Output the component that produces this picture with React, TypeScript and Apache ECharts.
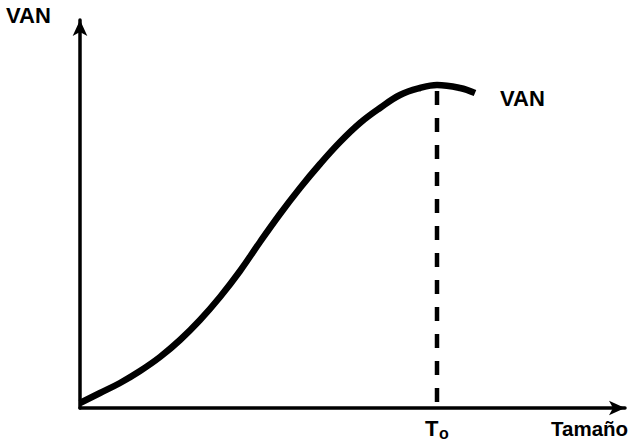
import React, { useEffect, useRef } from "react";
import * as echarts from "echarts";

// Curve (Tamaño, VAN) in chart units
const tamano = [0, 20, 40, 60, 80, 100, 120, 140, 160, 180, 200, 220, 240, 260, 280, 300, 320, 340, 357, 380, 395];
const van = [5, 15, 25, 37, 51, 68, 88, 111, 137, 166, 194, 220, 244, 266, 285, 300, 313, 320, 323, 320, 315];
// Optimal size T_o
const optimoX = 357;
const optimoY = 323;
const yLabel = "VAN";
const xLabel = "Tamaño";
const curveLabel = "VAN";

export default function App() {
  const ref = useRef<HTMLDivElement>(null);
  useEffect(() => {
    if (!ref.current) return;
    const chart = echarts.init(ref.current, undefined, { renderer: "svg" });
    const font = "'Liberation Sans', Arial, Helvetica, sans-serif";
    const curve = tamano.map((x, i) => [x, van[i]]);
    const txt = (text: string, x: number, y: number, size = 22) => ({
      type: "text",
      x,
      y,
      style: { text, fontFamily: font, fontWeight: "bold", fontSize: size, fill: "#000", verticalAlign: "middle" },
    });
    chart.setOption({
      animation: false,
      backgroundColor: "#ffffff",
      grid: { left: 80, right: 8, top: 20, bottom: 37 },
      xAxis: {
        type: "value",
        min: 0,
        max: 545,
        axisLine: {
          show: true,
          onZero: false,
          symbol: ["none", "arrow"],
          symbolSize: [11, 16],
          lineStyle: { color: "#000", width: 3.5 },
        },
        axisTick: { show: false },
        axisLabel: { show: false },
        splitLine: { show: false },
      },
      yAxis: {
        type: "value",
        min: 0,
        max: 388,
        axisLine: {
          show: true,
          onZero: false,
          symbol: ["none", "arrow"],
          symbolSize: [11, 16],
          lineStyle: { color: "#000", width: 3.5 },
        },
        axisTick: { show: false },
        axisLabel: { show: false },
        splitLine: { show: false },
      },
      series: [
        {
          type: "line",
          data: [
            [optimoX, optimoY],
            [optimoX, 0],
          ],
          symbol: "none",
          z: 1,
          lineStyle: { color: "#000", width: 4.5, type: [14, 13], dashOffset: 21, cap: "butt" },
        },
        {
          type: "line",
          data: curve,
          smooth: 0.4,
          symbol: "none",
          z: 2,
          lineStyle: { color: "#000", width: 6.5, cap: "butt" },
        },
      ],
      graphic: [
        txt(yLabel, 6, 15),
        txt(curveLabel, 500, 98),
        txt("T", 425, 428),
        txt("o", 439, 433, 16),
        txt(xLabel, 551, 428, 20.5),
      ],
    });
    return () => chart.dispose();
  }, []);
  return <div ref={ref} style={{ width: 633, height: 445, position: "absolute", left: 0, top: 0 }} />;
}
